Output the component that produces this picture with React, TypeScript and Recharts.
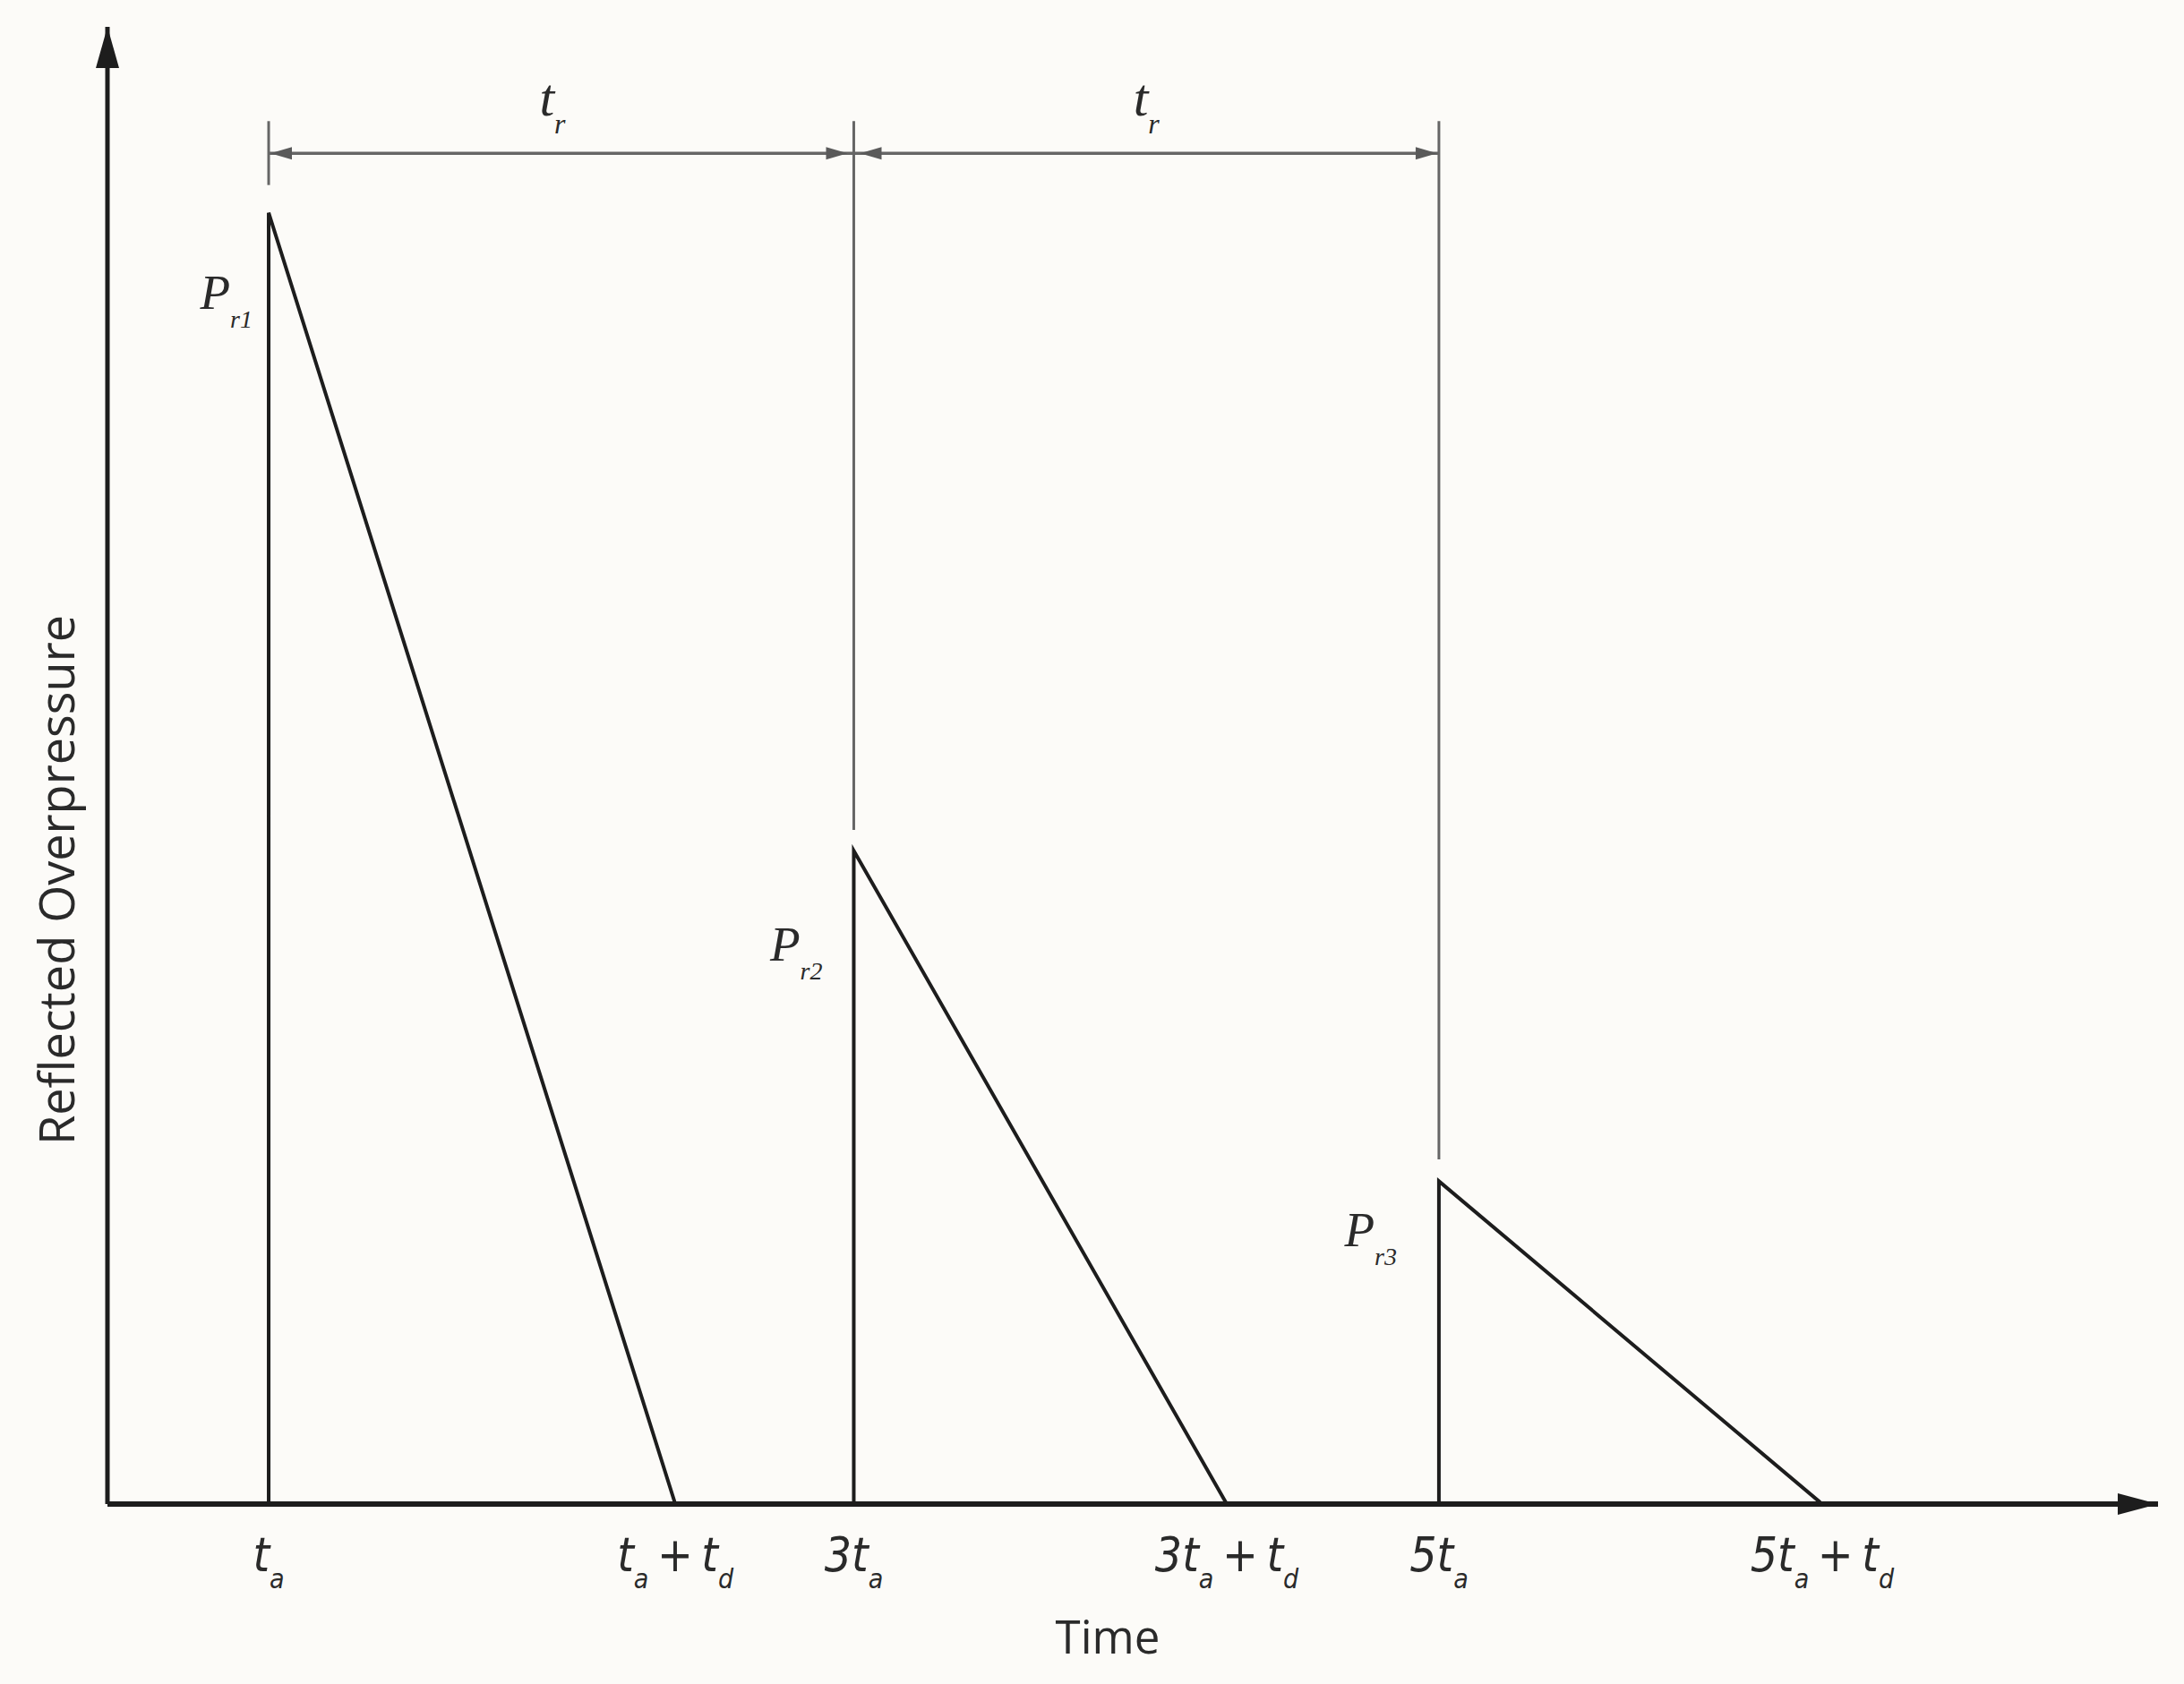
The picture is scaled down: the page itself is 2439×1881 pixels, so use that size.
import React from 'react';
import { ComposedChart, Line, XAxis, YAxis, ReferenceLine, ReferenceDot } from 'recharts';

// time axis, in units of t_a (schematic)
const timeTicks = [1, 2.39, 3, 4.275, 5, 6.31];
const tickLabels = ['t_a', 't_a + t_d', '3t_a', '3t_a + t_d', '5t_a', '5t_a + t_d'];

// pulse outline: instant rise at each arrival, linear decay to zero
const pulseTime = [1, 1, 2.39, 3, 3, 4.275, 5, 5, 6.31];
const pulsePressure = [0, 1, 0, 0, 0.506, 0, 0, 0.25, 0];

// peaks
const peakNames = ['1', '2', '3'];
const peakTime = [1, 3, 5];
const peakPressure = [1, 0.506, 0.25];

// t_r dimension above the pulses
const dimLevel = 1.046;
const guideTop = 1.071;
const guideBottom = [1.0215, 0.522, 0.267];
const trIntervals = [[1, 3], [3, 5]];
const trLabelTime = [1.97, 4.0];

const xDomain = [0.449, 7.458];
const yDomain = [0, 1.144];

const W = 2439;
const H = 1881;
const INK = '#1d1d1d';
const GREY = '#666666';
const SERIF = "'Liberation Serif', 'DejaVu Serif', serif";
const NARROW = "'Liberation Sans Narrow', 'DejaVu Sans Condensed', 'Liberation Sans', sans-serif";
const SANS = "'Open Sans', 'Noto Sans', sans-serif";

// label offsets for the P_r annotations (dx left of the rise, dy below the peak)
const peakLabelOffset = [[18, 107], [35, 123], [47, 73]];

const data = pulseTime.map((t, i) => ({ t, p: pulsePressure[i] }));

function parse(s: string) {
  const out: { t: string; sub: boolean }[] = [];
  const re = /_\{([^}]+)\}|_(.)/g;
  let last = 0;
  let m: RegExpExecArray | null;
  while ((m = re.exec(s))) {
    if (m.index > last) out.push({ t: s.slice(last, m.index), sub: false });
    out.push({ t: m[1] ?? m[2], sub: true });
    last = re.lastIndex;
  }
  if (last < s.length) out.push({ t: s.slice(last), sub: false });
  return out;
}

function SubText({ x, y, label, size, subSize, shift, anchor = 'middle', family, fill = '#2a2a2a' }: any) {
  let level = 0;
  return (
    <text x={x} y={y} textAnchor={anchor} fontFamily={family} fontStyle="italic" fill={fill} style={{ whiteSpace: 'pre' }}>
      {parse(label).map((p, i) => {
        const target = p.sub ? shift : 0;
        const dy = target - level;
        level = target;
        return (
          <tspan key={i} dy={dy} fontSize={p.sub ? subSize : size}>
            {p.sub ? p.t : p.t.replace(/ /g, '\u2009')}
          </tspan>
        );
      })}
    </text>
  );
}

const TimeTick = (props: any) => {
  const { x, y, payload } = props;
  const idx = timeTicks.indexOf(payload.value);
  return <SubText x={x} y={y + 75} label={tickLabels[idx] ?? ''} size={53} subSize={30} shift={19} family={NARROW} />;
};

const arrow = (dir: 'left' | 'right' | 'up', len: number, half: number, fill: string, gap = 0) => (props: any) => {
  const { cx, cy } = props;
  let d = '';
  if (dir === 'right') {
    const tx = cx - gap;
    d = `M${tx},${cy} L${tx - len},${cy - half} L${tx - len},${cy + half} Z`;
  } else if (dir === 'left') {
    const tx = cx + gap;
    d = `M${tx},${cy} L${tx + len},${cy - half} L${tx + len},${cy + half} Z`;
  } else {
    d = `M${cx},${cy} L${cx - half},${cy + len} L${cx + half},${cy + len} Z`;
  }
  return <path d={d} fill={fill} />;
};

const XTitle = (props: any) => {
  const vb = props.viewBox || { x: 120, y: 1680, width: 2290, height: 150 };
  return (
    <text x={vb.x + vb.width / 2 - 28} y={vb.y + 167} textAnchor="middle" fontFamily={SANS} fontSize={51} fill="#2a2a2a">
      Time
    </text>
  );
};

const YTitle = (props: any) => {
  const vb = props.viewBox || { x: 40, y: 30, width: 80, height: 1650 };
  const x = vb.x + 43;
  const y = vb.y + vb.height / 2 + 128;
  return (
    <text x={x} y={y} transform={`rotate(-90, ${x}, ${y})`} textAnchor="middle" fontFamily={SANS} fontSize={54} fill="#2a2a2a">
      Reflected Overpressure
    </text>
  );
};

export default function App() {
  return (
    <div style={{ position: 'absolute', left: 0, top: 0, width: W, height: H, background: '#fcfbf8' }}>
      <ComposedChart width={W} height={H} data={data} margin={{ top: 30, right: 29, left: 40, bottom: 51 }}>
        <XAxis
          dataKey="t"
          type="number"
          domain={xDomain}
          ticks={timeTicks}
          interval={0}
          allowDataOverflow
          tickLine={false}
          tickSize={0}
          tickMargin={0}
          height={150}
          axisLine={{ stroke: INK, strokeWidth: 6 }}
          tick={TimeTick}
          label={<XTitle />}
        />
        <YAxis
          type="number"
          domain={yDomain}
          allowDataOverflow
          tick={false}
          tickLine={false}
          width={80}
          axisLine={{ stroke: INK, strokeWidth: 5 }}
          label={<YTitle />}
        />

        {peakTime.map((t, i) => (
          <ReferenceLine
            key={`g${i}`}
            segment={[{ x: t, y: guideTop }, { x: t, y: guideBottom[i] }]}
            stroke={GREY}
            strokeWidth={3}
            ifOverflow="visible"
          />
        ))}
        {trIntervals.map(([a, b], i) => (
          <ReferenceLine
            key={`d${i}`}
            segment={[{ x: a, y: dimLevel }, { x: b, y: dimLevel }]}
            stroke={GREY}
            strokeWidth={3.5}
            ifOverflow="visible"
          />
        ))}
        {trIntervals.map(([a], i) => (
          <ReferenceDot key={`al${i}`} x={a} y={dimLevel} ifOverflow="visible" shape={arrow('left', 24, 7, '#5a5a5a', i === 0 ? 2 : 7)} />
        ))}
        {trIntervals.map(([, b], i) => (
          <ReferenceDot key={`ar${i}`} x={b} y={dimLevel} ifOverflow="visible" shape={arrow('right', 24, 7, '#5a5a5a', i === 0 ? 7 : 2)} />
        ))}
        {trLabelTime.map((t, i) => (
          <ReferenceDot
            key={`tr${i}`}
            x={t}
            y={dimLevel}
            ifOverflow="visible"
            shape={(p: any) => <SubText x={p.cx} y={p.cy - 42} label="t_r" size={60} subSize={32} shift={20} family={SERIF} />}
          />
        ))}

        <Line
          dataKey="p"
          type="linear"
          stroke={INK}
          strokeWidth={4}
          strokeLinejoin="miter"
          dot={false}
          activeDot={false}
          isAnimationActive={false}
        />

        {peakTime.map((t, i) => (
          <ReferenceDot
            key={`pl${i}`}
            x={t}
            y={peakPressure[i]}
            ifOverflow="visible"
            shape={(p: any) => (
              <SubText
                x={p.cx - peakLabelOffset[i][0]}
                y={p.cy + peakLabelOffset[i][1]}
                label={`P_{r${peakNames[i]}}`}
                size={55}
                subSize={28}
                shift={21}
                anchor="end"
                family={SERIF}
              />
            )}
          />
        ))}

        <ReferenceDot x={xDomain[0]} y={yDomain[1]} ifOverflow="visible" shape={arrow('up', 46, 13, INK)} />
        <ReferenceDot x={xDomain[1]} y={0} ifOverflow="visible" shape={arrow('right', 45, 12, INK)} />
      </ComposedChart>
    </div>
  );
}
